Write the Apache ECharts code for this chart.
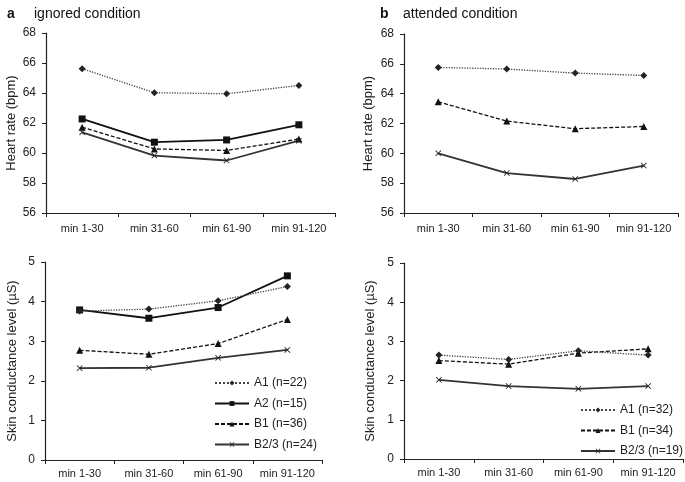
<!DOCTYPE html>
<html>
<head>
<meta charset="utf-8">
<script src="https://cdn.jsdelivr.net/npm/echarts@6/dist/echarts.min.js"></script>
<style>
html,body{margin:0;padding:0;background:#fff;}
#c{width:685px;height:482px;}
</style>
</head>
<body>
<div id="c"></div>
<script>
const categories = ['min 1-30', 'min 31-60', 'min 61-90', 'min 91-120'];

// Heart rate, ignored condition
const hrIgnA1  = [65.62, 64.02, 63.95, 64.50];
const hrIgnA2  = [62.27, 60.72, 60.87, 61.88];
const hrIgnB1  = [61.72, 60.27, 60.17, 60.93];
const hrIgnB23 = [61.38, 59.83, 59.50, 60.82];
// Heart rate, attended condition
const hrAttA1  = [65.76, 65.65, 65.38, 65.22];
const hrAttB1  = [63.45, 62.16, 61.65, 61.80];
const hrAttB23 = [60.00, 58.68, 58.28, 59.18];
// Skin conductance, ignored condition
const sclIgnA1  = [3.76, 3.81, 4.02, 4.38];
const sclIgnA2  = [3.79, 3.58, 3.85, 4.65];
const sclIgnB1  = [2.77, 2.67, 2.94, 3.55];
const sclIgnB23 = [2.32, 2.33, 2.58, 2.78];
// Skin conductance, attended condition
const sclAttA1  = [2.65, 2.54, 2.76, 2.65];
const sclAttB1  = [2.51, 2.42, 2.70, 2.81];
const sclAttB23 = [2.02, 1.86, 1.79, 1.86];

const namesIgn = ['A1 (n=22)', 'A2 (n=15)', 'B1 (n=36)', 'B2/3 (n=24)'];
const namesAtt = ['A1 (n=32)', 'B1 (n=34)', 'B2/3 (n=19)'];

const FONT = 'Liberation Sans, Arial, sans-serif';
const TXT = '#222';
const XSYM = 'path://M0,1L1,0L5,4L9,0L10,1L6,5L10,9L9,10L5,6L1,10L0,9L4,5Z';

const styles = {
  A1:  {symbol: 'diamond', symbolSize: 7, lineStyle: {type: 'dotted', width: 1.3, color: '#444'}, itemStyle: {color: '#222'}},
  A2:  {symbol: 'rect', symbolSize: 7, lineStyle: {type: 'solid', width: 1.8, color: '#111'}, itemStyle: {color: '#111'}},
  B1:  {symbol: 'triangle', symbolSize: 7, lineStyle: {type: [4, 2], width: 1.3, color: '#111'}, itemStyle: {color: '#111'}},
  B23: {symbol: XSYM, symbolSize: 6, lineStyle: {type: 'solid', width: 1.8, color: '#333'}, itemStyle: {color: '#222'}}
};

function mk(name, key, data, idx) {
  const s = styles[key];
  return {
    type: 'line', name: name, data: data,
    xAxisIndex: idx, yAxisIndex: idx,
    symbol: s.symbol, symbolSize: s.symbolSize,
    showSymbol: true,
    lineStyle: s.lineStyle, itemStyle: s.itemStyle,
    emphasis: {disabled: true},
    animation: false, z: key === 'A1' ? 3 : 2
  };
}

const grids = [
  {left: 46, top: 33, width: 289, height: 180},
  {left: 404, top: 34, width: 274, height: 179},
  {left: 45, top: 262, width: 277, height: 198},
  {left: 404, top: 263, width: 279, height: 196}
];

function xAx(i, margin) {
  return {
    type: 'category', gridIndex: i, data: categories, boundaryGap: true,
    axisLine: {lineStyle: {color: '#222', width: 1.2}},
    axisTick: {show: true, length: 4, inside: false, interval: 0, lineStyle: {color: '#222'}},
    axisLabel: {color: TXT, fontFamily: FONT, fontSize: 11, margin: margin, interval: 0}
  };
}
function yAx(i, min, max, interval, name, gap) {
  return {
    type: 'value', gridIndex: i, min: min, max: max, interval: interval,
    name: name, nameLocation: 'middle', nameGap: gap,
    nameTextStyle: {color: TXT, fontFamily: FONT, fontSize: 13},
    splitLine: {show: false},
    axisLine: {show: true, lineStyle: {color: '#222', width: 1.2}},
    axisTick: {show: true, length: 4, lineStyle: {color: '#222'}},
    axisLabel: {color: TXT, fontFamily: FONT, fontSize: 12, margin: 10}
  };
}

const legendBase = {
  orient: 'vertical', itemWidth: 34, itemHeight: 6, itemGap: 8.5, padding: 0,
  textStyle: {fontFamily: FONT, fontSize: 12, color: TXT}, selectedMode: false
};

const option = {
  backgroundColor: '#fff',
  animation: false,
  title: [
    {text: 'a', left: 2, top: 2, textStyle: {fontFamily: FONT, fontSize: 14, fontWeight: 'bold', color: '#111'}},
    {text: 'ignored condition', left: 29, top: 2, textStyle: {fontFamily: FONT, fontSize: 14, fontWeight: 'normal', color: '#111'}},
    {text: 'b', left: 375, top: 2, textStyle: {fontFamily: FONT, fontSize: 14, fontWeight: 'bold', color: '#111'}},
    {text: 'attended condition', left: 398, top: 2, textStyle: {fontFamily: FONT, fontSize: 14, fontWeight: 'normal', color: '#111'}}
  ],
  grid: grids,
  xAxis: [xAx(0, 10), xAx(1, 10), xAx(2, 8), xAx(3, 8)],
  yAxis: [
    yAx(0, 56, 68, 2, 'Heart rate (bpm)', 28),
    yAx(1, 56, 68, 2, 'Heart rate (bpm)', 29),
    yAx(2, 0, 5, 1, 'Skin conductance level (µS)', 26),
    yAx(3, 0, 5, 1, 'Skin conductance level (µS)', 27)
  ],
  legend: [
    Object.assign({data: namesIgn, left: 214, top: 377}, legendBase),
    Object.assign({data: namesAtt, left: 580, top: 404}, legendBase)
  ],
  series: [
    mk(namesIgn[0], 'A1', hrIgnA1, 0),
    mk(namesIgn[1], 'A2', hrIgnA2, 0),
    mk(namesIgn[2], 'B1', hrIgnB1, 0),
    mk(namesIgn[3], 'B23', hrIgnB23, 0),
    mk(namesAtt[0], 'A1', hrAttA1, 1),
    mk(namesAtt[1], 'B1', hrAttB1, 1),
    mk(namesAtt[2], 'B23', hrAttB23, 1),
    mk(namesIgn[0], 'A1', sclIgnA1, 2),
    mk(namesIgn[1], 'A2', sclIgnA2, 2),
    mk(namesIgn[2], 'B1', sclIgnB1, 2),
    mk(namesIgn[3], 'B23', sclIgnB23, 2),
    mk(namesAtt[0], 'A1', sclAttA1, 3),
    mk(namesAtt[1], 'B1', sclAttB1, 3),
    mk(namesAtt[2], 'B23', sclAttB23, 3)
  ]
};

const chart = echarts.init(document.getElementById('c'), null, {renderer: 'canvas'});
chart.setOption(option);
</script>
</body>
</html>
